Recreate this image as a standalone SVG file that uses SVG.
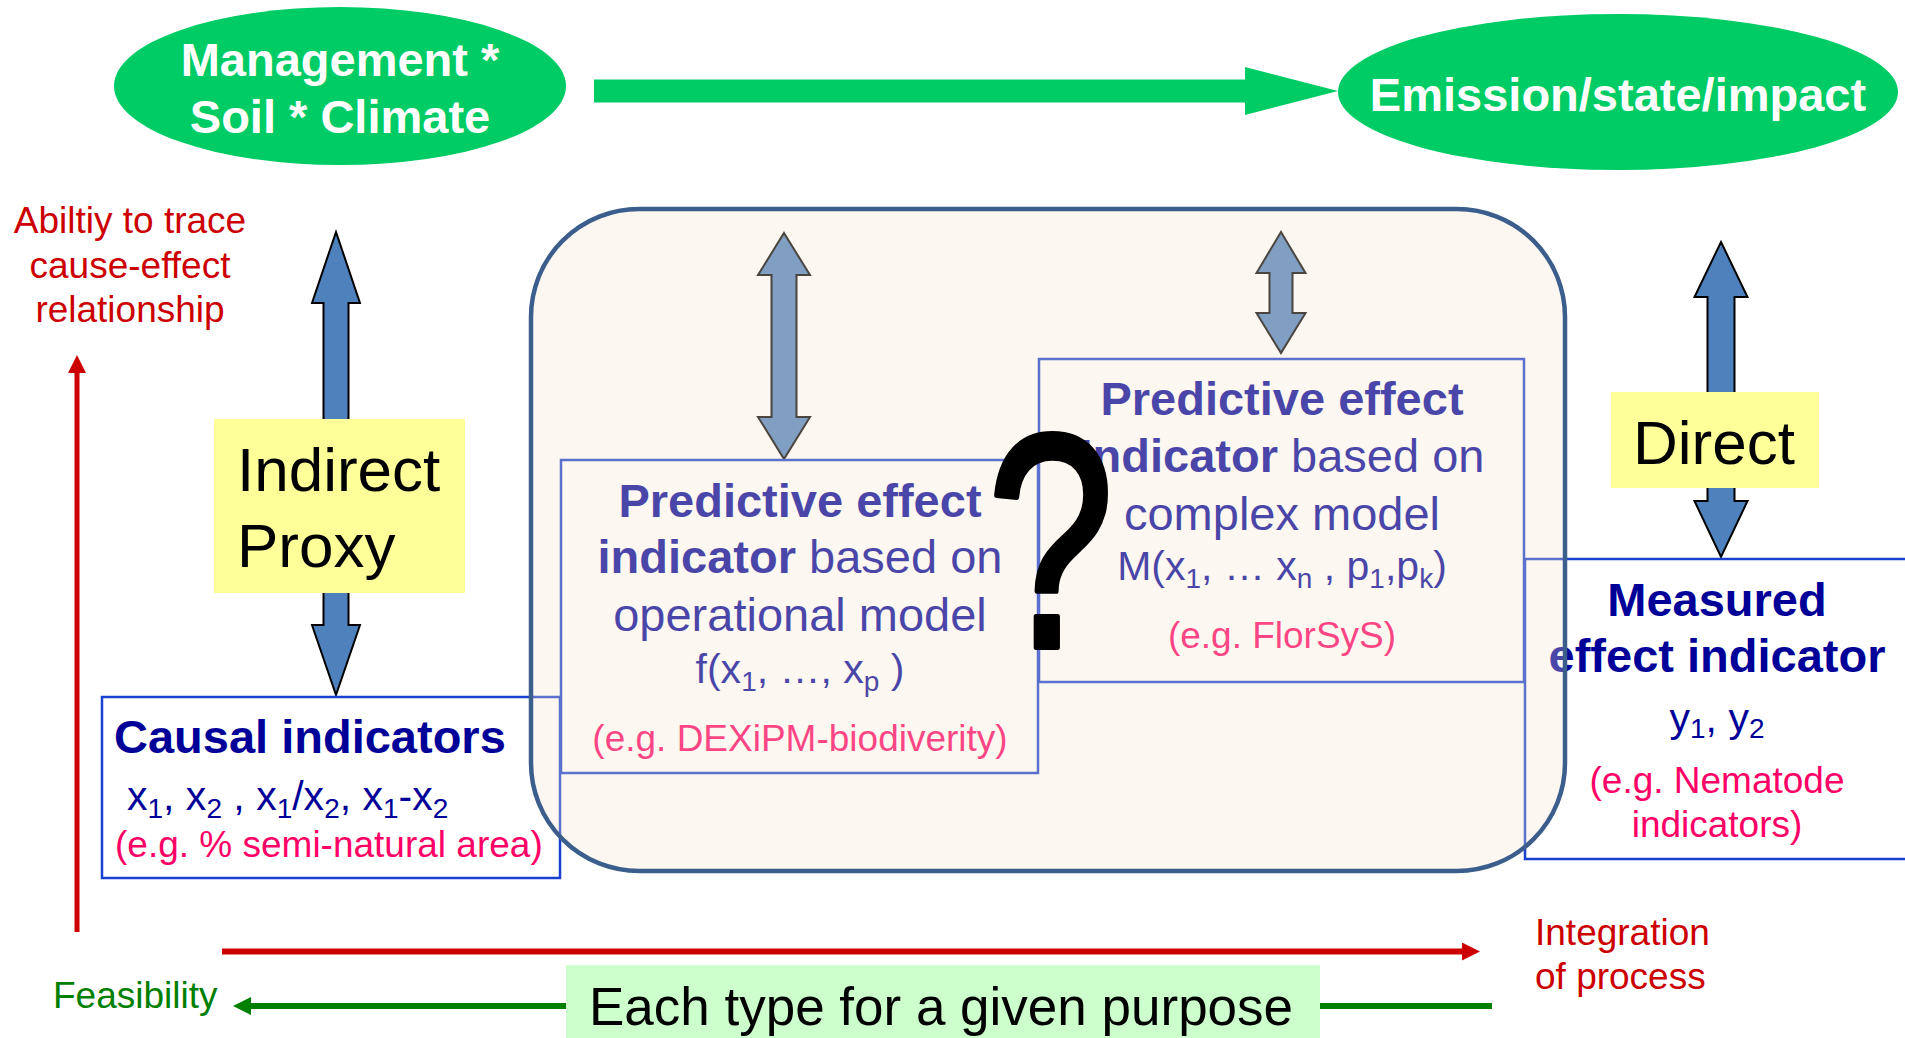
<svg xmlns="http://www.w3.org/2000/svg" width="1905" height="1038" viewBox="0 0 1905 1038">
<defs>
<style>
text{font-family:"Liberation Sans",Arial,sans-serif}
.ell{fill:#00CC66}
.wt{fill:#FFFFFF;font-size:47px;font-weight:bold}
.red{fill:#CC0000;font-size:37px}
.grn{fill:#008000;font-size:37px}
.blk{fill:#000000}
.yel{fill:#FFFF99}
.barrow{fill:#4F81BD;stroke:#000000;stroke-width:2;stroke-linejoin:miter}
.box{fill:#FFFFFF;stroke:#1A40D0;stroke-width:2.5}
.nv{fill:#000099;font-size:47px}
.nb{fill:#000099;font-size:47px;font-weight:bold}
.fm{fill:#000099;font-size:41px}
.s{font-size:28px}
.pk{fill:#FF0066;font-size:37px}
</style>
<marker id="redHead" markerWidth="18" markerHeight="18" refX="0" refY="9" orient="auto" markerUnits="userSpaceOnUse" viewBox="0 0 18 18">
<path d="M0,0 L18,9 L0,18 Z" fill="#CC0000"/>
</marker>
<marker id="grnHead" markerWidth="18" markerHeight="18" refX="0" refY="9" orient="auto" markerUnits="userSpaceOnUse" viewBox="0 0 18 18">
<path d="M0,0 L18,9 L0,18 Z" fill="#008000"/>
</marker>
</defs>
<rect x="0" y="0" width="1905" height="1038" fill="#FFFFFF"/>

<g id="connectors">
<polygon points="594,79.5 1245,79.5 1245,67 1338,91 1245,115 1245,102.5 594,102.5" fill="#00CC66"/>
<line x1="77" y1="932" x2="77" y2="373" stroke="#CC0000" stroke-width="5" marker-end="url(#redHead)"/>
<line x1="222" y1="951.5" x2="1462" y2="951.5" stroke="#CC0000" stroke-width="6" marker-end="url(#redHead)"/>
<line x1="1492" y1="1006" x2="251" y2="1006" stroke="#008000" stroke-width="6" marker-end="url(#grnHead)"/>
<polygon class="barrow" points="336,232 360,303 348.5,303 348.5,625 360,625 336,695 312,625 323.5,625 323.5,303 312,303"/>
<polygon class="barrow" points="784,233 810,275 796.5,275 796.5,417 810,417 784,459 758,417 771.5,417 771.5,275 758,275"/>
<polygon class="barrow" points="1281,232 1305.5,273 1292.5,273 1292.5,313 1305.5,313 1281,353 1256.5,313 1269.5,313 1269.5,273 1256.5,273"/>
<polygon class="barrow" points="1721,242 1747.5,297 1734.5,297 1734.5,501 1747.5,501 1721,557 1694.5,501 1707.5,501 1707.5,297 1694.5,297"/>
</g>

<g id="management">
<ellipse class="ell" cx="340" cy="86" rx="226" ry="79"/>
<text class="wt" x="340" y="76" text-anchor="middle">Management *</text>
<text class="wt" x="340" y="133" text-anchor="middle">Soil * Climate</text>
</g>

<g id="emission">
<ellipse class="ell" cx="1618" cy="92" rx="280" ry="78"/>
<text class="wt" x="1618" y="111" text-anchor="middle">Emission/state/impact</text>
</g>

<g id="ability-label">
<text class="red" x="130" y="233" text-anchor="middle">Abiltiy to trace</text>
<text class="red" x="130" y="278" text-anchor="middle">cause-effect</text>
<text class="red" x="130" y="322" text-anchor="middle">relationship</text>
</g>

<g id="integration-label">
<text class="red" x="1535" y="945">Integration</text>
<text class="red" x="1535" y="989">of process</text>
</g>

<g id="feasibility-label">
<text class="grn" x="53" y="1008">Feasibility</text>
</g>

<g id="purpose">
<rect x="566" y="965" width="754" height="80" fill="#CCFFCC"/>
<text class="blk" x="941" y="1025" text-anchor="middle" font-size="53">Each type for a given purpose</text>
</g>

<g id="indirect-proxy">
<rect class="yel" x="214" y="419" width="251" height="174"/>
<text class="blk" x="237" y="491" font-size="62">Indirect</text>
<text class="blk" x="237" y="567" font-size="62">Proxy</text>
</g>

<g id="direct">
<rect class="yel" x="1611" y="392" width="208" height="96"/>
<text class="blk" x="1633" y="464" font-size="62">Direct</text>
</g>

<g id="causal">
<rect class="box" x="102" y="697" width="458" height="181"/>
<text class="nb" x="114" y="753">Causal indicators</text>
<text class="fm" x="127" y="810">x<tspan class="s" dy="8">1</tspan><tspan dy="-8">, x</tspan><tspan class="s" dy="8">2</tspan><tspan dy="-8"> , x</tspan><tspan class="s" dy="8">1</tspan><tspan dy="-8">/x</tspan><tspan class="s" dy="8">2</tspan><tspan dy="-8">, x</tspan><tspan class="s" dy="8">1</tspan><tspan dy="-8">-x</tspan><tspan class="s" dy="8">2</tspan></text>
<text class="pk" x="115" y="857">(e.g. % semi-natural area)</text>
</g>

<g id="operational">
<rect class="box" x="561" y="460" width="477" height="313"/>
<text class="nb" x="800" y="517" text-anchor="middle">Predictive effect</text>
<text class="nv" x="800" y="573" text-anchor="middle"><tspan font-weight="bold">indicator</tspan> based on</text>
<text class="nv" x="800" y="631" text-anchor="middle">operational model</text>
<text class="fm" x="800" y="683" text-anchor="middle">f(x<tspan class="s" dy="8">1</tspan><tspan dy="-8">, …, x</tspan><tspan class="s" dy="8">p</tspan><tspan dy="-8"> )</tspan></text>
<text class="pk" x="800" y="751" text-anchor="middle">(e.g. DEXiPM-biodiverity)</text>
</g>

<g id="complex">
<rect class="box" x="1039" y="359" width="485" height="323"/>
<text class="nb" x="1282" y="415" text-anchor="middle">Predictive effect</text>
<text class="nv" x="1282" y="472" text-anchor="middle"><tspan font-weight="bold">Indicator</tspan> based on</text>
<text class="nv" x="1282" y="530" text-anchor="middle">complex model</text>
<text class="fm" x="1282" y="580" text-anchor="middle">M(x<tspan class="s" dy="8">1</tspan><tspan dy="-8">, … x</tspan><tspan class="s" dy="8">n</tspan><tspan dy="-8"> , p</tspan><tspan class="s" dy="8">1</tspan><tspan dy="-8">,p</tspan><tspan class="s" dy="8">k</tspan><tspan dy="-8">)</tspan></text>
<text class="pk" x="1282" y="648" text-anchor="middle">(e.g. FlorSyS)</text>
</g>

<g id="measured">
<rect class="box" x="1525" y="559" width="400" height="300"/>
<text class="nb" x="1717" y="616" text-anchor="middle">Measured</text>
<text class="nb" x="1717" y="672" text-anchor="middle">effect indicator</text>
<text class="fm" x="1717" y="732" text-anchor="middle">y<tspan class="s" dy="6">1</tspan><tspan dy="-6">, y</tspan><tspan class="s" dy="6">2</tspan></text>
<text class="pk" x="1717" y="793" text-anchor="middle">(e.g. Nematode</text>
<text class="pk" x="1717" y="837" text-anchor="middle">indicators)</text>
</g>

<g id="predictive-group">
<rect x="531" y="209" width="1034" height="662" rx="108" ry="108" fill="rgb(245,228,205)" fill-opacity="0.3" stroke="#3C5E8C" stroke-width="4.5"/>
</g>

<g id="question">
<text transform="translate(987 647) scale(0.75 1)" x="0" y="0" font-family="'Open Sans',sans-serif" font-size="305" fill="#000000" stroke="#000000" stroke-width="6" stroke-linejoin="round">?</text>
</g>
</svg>
